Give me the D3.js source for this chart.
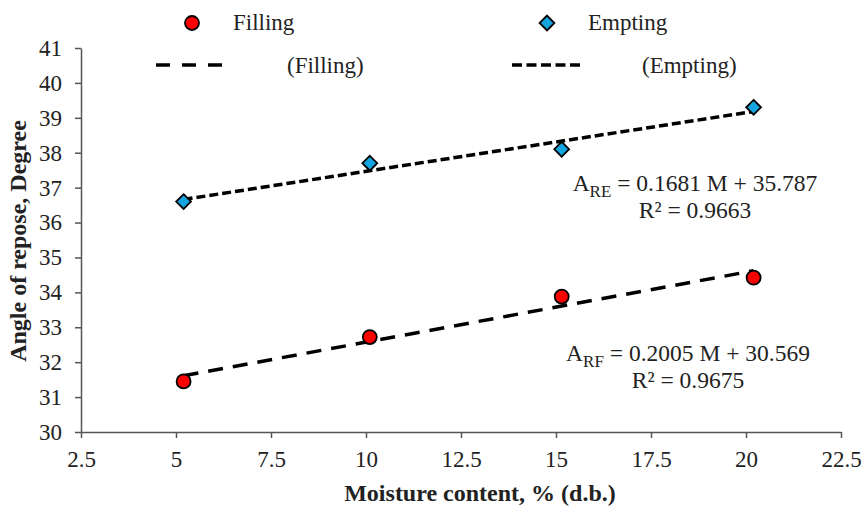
<!DOCTYPE html>
<html>
<head>
<meta charset="utf-8">
<script src="https://cdn.jsdelivr.net/npm/d3@7"></script>
<style>
  body { margin: 0; background: #fff; }
  svg text { font-family: "Liberation Serif", "Times New Roman", serif; fill: #222; }
</style>
</head>
<body>
<svg id="chart" width="861" height="508"></svg>
<script>
// data
const moisture = [5.2, 10.1, 15.15, 20.2];
const filling = [31.45, 32.72, 33.88, 34.42];
const empting = [36.6, 37.7, 38.1, 39.3];
const xTicks = [2.5, 5, 7.5, 10, 12.5, 15, 17.5, 20, 22.5];
const yTicks = [30, 31, 32, 33, 34, 35, 36, 37, 38, 39, 40, 41];
// trend lines as printed on the chart
const fitFilling = { slope: 0.2005, intercept: 30.569 };
const fitEmpting = { slope: 0.1681, intercept: 35.787 };

const svg = d3.select('#chart');
const axisColor = '#555';

const x = d3.scaleLinear().domain([2.5, 22.5]).range([81, 841]);
const y = d3.scaleLinear().domain([30, 41]).range([432, 48]);

// y axis
const yAxis = svg.append('g')
  .attr('transform', 'translate(' + x.range()[0] + ',0)')
  .call(d3.axisLeft(y).tickValues(yTicks).tickSize(6).tickSizeOuter(0).tickPadding(13).tickFormat(d3.format('d')));

// x axis
const xAxis = svg.append('g')
  .attr('transform', 'translate(0,' + y.range()[0] + ')')
  .call(d3.axisBottom(x).tickValues(xTicks).tickSize(6).tickSizeOuter(0).tickPadding(13).tickFormat((d) => String(d)));

[yAxis, xAxis].forEach((g) => {
  g.selectAll('path, line').attr('stroke', axisColor).attr('stroke-width', 1.5);
  g.selectAll('text').attr('font-size', '23px').attr('fill', '#222');
});

// axis titles
svg.append('text')
  .attr('x', 480)
  .attr('y', 501)
  .attr('text-anchor', 'middle')
  .attr('font-size', '24px')
  .attr('font-weight', 'bold')
  .text('Moisture content, % (d.b.)');

svg.append('text')
  .attr('transform', 'translate(26,241) rotate(-90)')
  .attr('text-anchor', 'middle')
  .attr('font-size', '24px')
  .attr('font-weight', 'bold')
  .text('Angle of repose, Degree');

// trend lines
const xMin = d3.min(moisture);
const xMax = d3.max(moisture);
const trend = [
  { fit: fitFilling, dash: '15,10' },
  { fit: fitEmpting, dash: '9,4' },
];
trend.forEach((t) => {
  svg.append('line')
    .attr('x1', x(xMin))
    .attr('y1', y(t.fit.slope * xMin + t.fit.intercept))
    .attr('x2', x(xMax))
    .attr('y2', y(t.fit.slope * xMax + t.fit.intercept))
    .attr('stroke', '#000')
    .attr('stroke-width', 3.5)
    .attr('stroke-dasharray', t.dash);
});

// points
const diamond = d3.symbol().type(d3.symbolDiamond2).size(140);

svg.selectAll('.emp')
  .data(moisture)
  .enter()
  .append('path')
  .attr('class', 'emp')
  .attr('d', diamond)
  .attr('transform', (d, i) => 'translate(' + x(d) + ',' + y(empting[i]) + ')')
  .attr('fill', '#14a5e0')
  .attr('stroke', '#000')
  .attr('stroke-width', 1.8);

svg.selectAll('.fill')
  .data(moisture)
  .enter()
  .append('circle')
  .attr('class', 'fill')
  .attr('cx', (d) => x(d))
  .attr('cy', (d, i) => y(filling[i]))
  .attr('r', 7)
  .attr('fill', '#ff0000')
  .attr('stroke', '#000')
  .attr('stroke-width', 1.8);

// legend
const legend = svg.append('g');
legend.append('circle')
  .attr('cx', 192).attr('cy', 23).attr('r', 7)
  .attr('fill', '#ff0000').attr('stroke', '#000').attr('stroke-width', 1.8);
legend.append('text').attr('x', 233).attr('y', 30).attr('font-size', '23px').text('Filling');

legend.append('path')
  .attr('d', diamond)
  .attr('transform', 'translate(547,23)')
  .attr('fill', '#14a5e0').attr('stroke', '#000').attr('stroke-width', 1.8);
legend.append('text').attr('x', 588).attr('y', 30).attr('font-size', '23px').text('Empting');

legend.append('line')
  .attr('x1', 156).attr('x2', 224).attr('y1', 65).attr('y2', 65)
  .attr('stroke', '#000').attr('stroke-width', 3.5).attr('stroke-dasharray', '14,12');
legend.append('text').attr('x', 287).attr('y', 73).attr('font-size', '23px').text('(Filling)');

legend.append('line')
  .attr('x1', 512).attr('x2', 580).attr('y1', 65).attr('y2', 65)
  .attr('stroke', '#000').attr('stroke-width', 3.5).attr('stroke-dasharray', '10,4.5');
legend.append('text').attr('x', 642).attr('y', 73).attr('font-size', '23px').text('(Empting)');

// equations
function equation(cx, cy, sub, fit, r2) {
  const t = svg.append('text')
    .attr('x', cx).attr('y', cy)
    .attr('text-anchor', 'middle')
    .attr('font-size', '23.5px');
  t.append('tspan').text('A');
  t.append('tspan').attr('font-size', '17px').attr('dy', 6).text(sub);
  t.append('tspan').attr('dy', -6).text(' = ' + fit.slope.toFixed(4) + ' M + ' + fit.intercept.toFixed(3));
  svg.append('text')
    .attr('x', cx).attr('y', cy + 27)
    .attr('text-anchor', 'middle')
    .attr('font-size', '23.5px')
    .text('R² = ' + r2);
}
equation(695, 191, 'RE', fitEmpting, '0.9663');
equation(688, 361, 'RF', fitFilling, '0.9675');
</script>
</body>
</html>
